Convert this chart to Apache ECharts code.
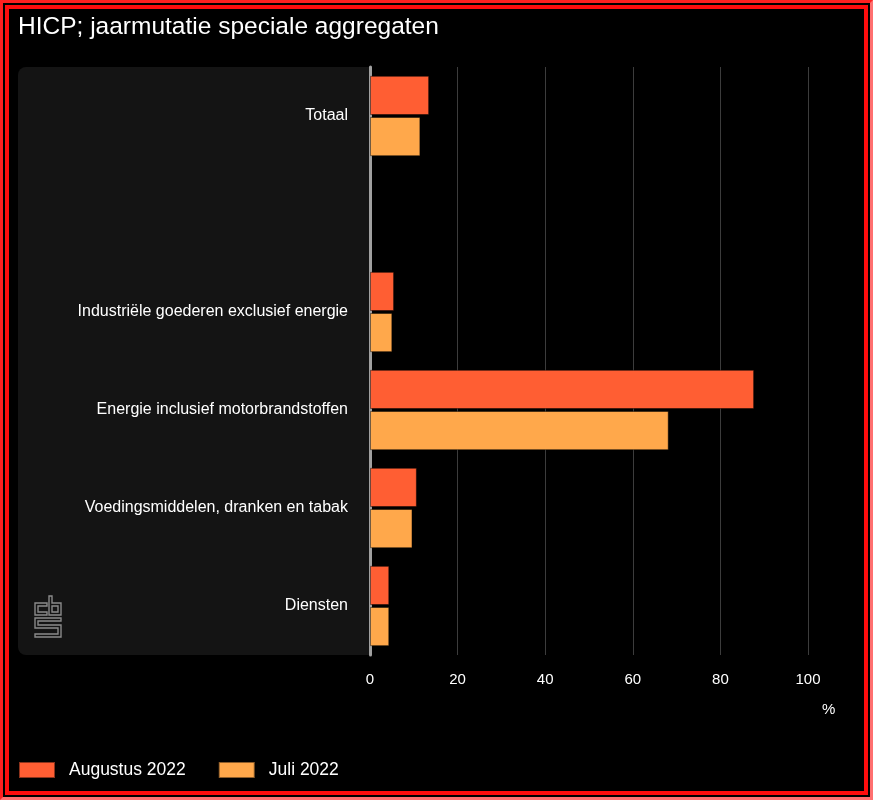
<!DOCTYPE html>
<html>
<head>
<meta charset="utf-8">
<script src="https://cdn.jsdelivr.net/npm/echarts@6/dist/echarts.min.js"></script>
<style>
  html, body { margin: 0; padding: 0; background: #000; }
  #chart { position: absolute; left: 0; top: 0; width: 873px; height: 800px; }
  #frame1 { position: absolute; left: 0; top: 0; width: 873px; height: 800px; box-sizing: border-box;
            border-style: solid; border-width: 3px; border-color: #ff2020 #ff7070 #ff7070 #ff2020; pointer-events: none; }
  #frame2 { position: absolute; left: 5px; top: 5px; width: 863px; height: 790px; box-sizing: border-box;
            border: 4px solid #ff0d0d; pointer-events: none; }
</style>
</head>
<body>
<div id="chart"></div>
<div id="frame1"></div>
<div id="frame2"></div>
<script>
const categories = [
  'Totaal',
  '',
  'Industriële goederen exclusief energie',
  'Energie inclusief motorbrandstoffen',
  'Voedingsmiddelen, dranken en tabak',
  'Diensten'
];
const augustus2022 = [13.5, '-', 5.5, 87.7, 10.7, 4.4];
const juli2022 = [11.5, '-', 5.1, 68.2, 9.7, 4.4];
const xTicks = [0, 20, 40, 60, 80, 100];
const seriesNames = ['Augustus 2022', 'Juli 2022'];

const FONT = '"Liberation Sans", Arial, sans-serif';
const chart = echarts.init(document.getElementById('chart'), null, { renderer: 'canvas' });

const logoStyle = { fill: 'none', stroke: '#8a8a8a', lineWidth: 1.4 };

chart.setOption({
  backgroundColor: '#000',
  animation: false,
  title: {
    text: 'HICP; jaarmutatie speciale aggregaten',
    left: 13, top: 10,
    textStyle: { color: '#fff', fontSize: 24.5, fontWeight: 'normal', fontFamily: FONT }
  },
  legend: {
    left: 13, top: 756,
    itemWidth: 36, itemHeight: 16, itemGap: 32,
    icon: 'rect',
    data: seriesNames,
    textStyle: { color: '#fff', fontSize: 17.5, fontFamily: FONT, padding: [0, 0, 0, 9] }
  },
  grid: { left: 370, right: 65, top: 67, bottom: 145, containLabel: false },
  xAxis: {
    type: 'value',
    min: xTicks[0], max: xTicks[xTicks.length - 1], interval: 20,
    name: '%',
    nameLocation: 'end',
    nameGap: 14,
    nameTextStyle: { color: '#fff', fontSize: 15, fontFamily: FONT, verticalAlign: 'top', padding: [47, 0, 0, 0] },
    axisLine: { show: false },
    axisTick: { show: false },
    axisLabel: { color: '#fff', fontSize: 15, fontFamily: FONT, margin: 17 },
    splitLine: { show: true, lineStyle: { color: '#3c3c3c', width: 1 } }
  },
  yAxis: {
    type: 'category',
    data: categories,
    inverse: true,
    axisLine: { show: true, lineStyle: { color: '#a0a0a0', width: 3 } },
    axisTick: { show: false },
    axisLabel: { color: '#fff', fontSize: 16, fontFamily: FONT, margin: 22, padding: [5, 0, 0, 0] },
    splitLine: { show: false }
  },
  graphic: [
    {
      type: 'rect', z: -10, silent: true,
      shape: { x: 18, y: 67, width: 352, height: 588, r: [8, 0, 0, 8] },
      style: { fill: '#141414' }
    },
    {
      type: 'polygon', z: -5, silent: true,
      shape: { points: [[47,603],[35,603],[35,615],[47,615],[47,612],[38,612],[38,606],[47,606]] },
      style: logoStyle
    },
    {
      type: 'polygon', z: -5, silent: true,
      shape: { points: [[49,596],[52,596],[52,603],[61,603],[61,615],[49,615]] },
      style: logoStyle
    },
    {
      type: 'polygon', z: -5, silent: true,
      shape: { points: [[52,606],[58,606],[58,612],[52,612]] },
      style: logoStyle
    },
    {
      type: 'polygon', z: -5, silent: true,
      shape: { points: [[35,618],[61,618],[61,621],[38,621],[38,625],[61,625],[61,637],[35,637],[35,634],[58,634],[58,628],[35,628]] },
      style: logoStyle
    }
  ],
  series: [
    {
      name: seriesNames[0], type: 'bar', data: augustus2022,
      barCategoryGap: '18%', barGap: '5%',
      itemStyle: { color: '#ff5e33', borderColor: 'rgba(0,0,0,0.45)', borderWidth: 1 }
    },
    {
      name: seriesNames[1], type: 'bar', data: juli2022,
      barCategoryGap: '18%', barGap: '5%',
      itemStyle: { color: '#ffa84b', borderColor: 'rgba(0,0,0,0.45)', borderWidth: 1 }
    }
  ]
});
</script>
</body>
</html>
